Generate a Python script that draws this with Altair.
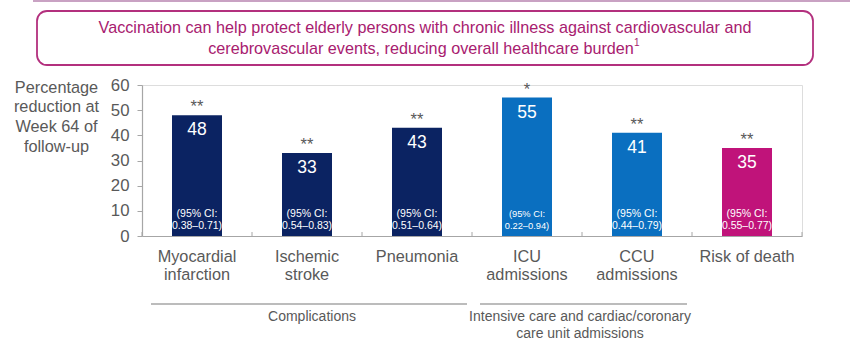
import altair as alt
import pandas as pd

FONT = "Liberation Sans"
GREY = "#595959"

# ---- data ----
categories = ["Myocardial infarction", "Ischemic stroke", "Pneumonia",
              "ICU admissions", "CCU admissions", "Risk of death"]
values = [48, 33, 43, 55, 41, 35]
significance = ["**", "**", "**", "*", "**", "**"]
ci_lower = [0.38, 0.54, 0.51, 0.22, 0.44, 0.55]
ci_upper = [0.71, 0.83, 0.64, 0.94, 0.79, 0.77]
series = ["Complications", "Complications", "Complications",
          "Admissions", "Admissions", "Death"]
series_domain = ["Complications", "Admissions", "Death"]
series_colors = ["#0b2362", "#0a6fc0", "#c0137a"]
x_label_lines = [["Myocardial", "infarction"], ["Ischemic", "stroke"], ["Pneumonia"],
                 ["ICU", "admissions"], ["CCU", "admissions"], ["Risk of death"]]
y_ticks = [0, 10, 20, 30, 40, 50, 60]
y_title = ["Percentage", "reduction at", "Week 64 of", "follow-up"]
headline = ["Vaccination can help protect elderly persons with chronic illness against cardiovascular and",
            "cerebrovascular events, reducing overall healthcare burden"]
footnote_mark = "1"
group_labels = [["Complications"], ["Intensive care and cardiac/coronary", "care unit admissions"]]

df = pd.DataFrame({
    "category": categories,
    "value": values,
    "sig": significance,
    "series": series,
    "lo": ci_lower,
    "hi": ci_upper,
})
df["base"] = 0
df["ci1"] = "(95% CI:"
df["ci2"] = [f"{l:.2f}\u2013{h:.2f})" for l, h in zip(ci_lower, ci_upper)]

# label expression for multi-line category labels
parts = []
for c, lines in zip(categories, x_label_lines):
    arr = "[" + ",".join("'" + s + "'" for s in lines) + "]"
    parts.append(f"datum.label == '{c}' ? {arr} : ")
label_expr = "".join(parts) + "datum.label"

x_scale = alt.Scale(paddingInner=60 / 110, paddingOuter=30 / 110)
x_axis = alt.Axis(title=None, labelAngle=0, ticks=False, domainColor="#a6a6a6",
                  domainWidth=1.2, labelExpr=label_expr, labelFontSize=16.3,
                  labelColor=GREY, labelPadding=12, labelLineHeight=18.5,
                  labelFont=FONT)
y_scale = alt.Scale(domain=[0, 60], nice=False, zero=True)
y_axis = alt.Axis(values=y_ticks, title=y_title, titleAngle=0, titleAlign="center",
                  titleBaseline="top", titleX=-86, titleY=-6, titleFontSize=16.3,
                  titleFontWeight="normal", titleColor=GREY, titleFont=FONT,
                  titleLineHeight=19.7, labelFontSize=16.8, labelColor=GREY,
                  labelFont=FONT, labelPadding=8, tickSize=5, tickColor="#a6a6a6",
                  domainColor="#a6a6a6", domainWidth=1.2, grid=False)

X = alt.X("category:N", sort=categories, scale=x_scale, axis=x_axis)
Y = alt.Y("value:Q", scale=y_scale, axis=y_axis)
YB = alt.Y("base:Q", scale=y_scale, axis=y_axis)

base = alt.Chart(df)

bars = base.mark_bar().encode(
    x=X, y=Y,
    color=alt.Color("series:N", scale=alt.Scale(domain=series_domain, range=series_colors), legend=None),
)

value_labels = base.mark_text(font=FONT, fontSize=17.5, color="white",
                              baseline="alphabetic", dy=20).encode(
    x=X, y=Y, text="value:Q")

stars = base.mark_text(font=FONT, fontSize=16.5, color=GREY,
                       baseline="alphabetic", dy=-3).encode(
    x=X, y=Y, text="sig:N")

ci_size = alt.condition("datum.category == 'ICU admissions'", alt.value(9.3), alt.value(10.5))
ci_line1 = base.mark_text(font=FONT, color="white", baseline="alphabetic", dy=-19).encode(
    x=X, y=YB, text="ci1:N", size=ci_size)
ci_line2 = base.mark_text(font=FONT, color="white", baseline="alphabetic", dy=-7).encode(
    x=X, y=YB, text="ci2:N", size=ci_size)

# small upward ticks at the category boundaries (half a gap outside each band)
bound_ticks = base.mark_rule(color="#a6a6a6", strokeWidth=1, xOffset=-30).encode(
    x=alt.X("category:N", sort=categories, scale=x_scale, axis=x_axis, bandPosition=0),
    y=alt.value(147), y2=alt.value(151))
last_tick = base.mark_rule(color="#a6a6a6", strokeWidth=1, xOffset=30).encode(
    x=alt.X("category:N", sort=categories, scale=x_scale, axis=x_axis, bandPosition=1),
    y=alt.value(147), y2=alt.value(151)).transform_filter(
    f"datum.category == '{categories[-1]}'")

one = alt.Chart(pd.DataFrame({"k": [0]}))

top_line = one.mark_rule(color="#c9a2c3", strokeWidth=2).encode(
    x=alt.value(-109), x2=alt.value(708), y=alt.value(-84))
box = one.mark_rect(fill="white", stroke="#b3307e", strokeWidth=1.8, cornerRadius=10).encode(
    x=alt.value(-105), x2=alt.value(671), y=alt.value(-74), y2=alt.value(-20))
head1 = one.mark_text(font=FONT, fontSize=16.2, color="#a8206f", baseline="middle").encode(
    x=alt.value(283), y=alt.value(-57), text=alt.value(headline[0]))
head2 = one.mark_text(font=FONT, fontSize=16.2, color="#a8206f", baseline="middle").encode(
    x=alt.value(279), y=alt.value(-36), text=alt.value(headline[1]))
head_sup = one.mark_text(font=FONT, fontSize=10, color="#a8206f", baseline="middle",
                         align="left").encode(
    x=alt.value(492), y=alt.value(-42), text=alt.value(footnote_mark))

grp_line1 = one.mark_rule(color="#a6a6a6", strokeWidth=1.3).encode(
    x=alt.value(9), x2=alt.value(325), y=alt.value(219))
grp_line2 = one.mark_rule(color="#a6a6a6", strokeWidth=1.3).encode(
    x=alt.value(338), x2=alt.value(545), y=alt.value(219))
grp_text1 = one.mark_text(font=FONT, fontSize=14, color=GREY, baseline="middle").encode(
    x=alt.value(170), y=alt.value(232), text=alt.value(group_labels[0][0]))
grp_text2a = one.mark_text(font=FONT, fontSize=14, color=GREY, baseline="middle").encode(
    x=alt.value(438), y=alt.value(232), text=alt.value(group_labels[1][0]))
grp_text2b = one.mark_text(font=FONT, fontSize=14, color=GREY, baseline="middle").encode(
    x=alt.value(438), y=alt.value(249), text=alt.value(group_labels[1][1]))

chart = alt.layer(
    top_line, box, head1, head2, head_sup,
    bars, bound_ticks, last_tick, value_labels, stars, ci_line1, ci_line2,
    grp_line1, grp_line2, grp_text1, grp_text2a, grp_text2b,
).properties(
    width=660, height=151,
    autosize=alt.AutoSizeParams(type="none"),
    padding={"left": 142, "top": 85, "right": 48, "bottom": 114},
    background="white",
).configure_view(stroke=None).configure(font=FONT)

chart.save("out.html", embed_options={"renderer": "svg", "actions": False})
